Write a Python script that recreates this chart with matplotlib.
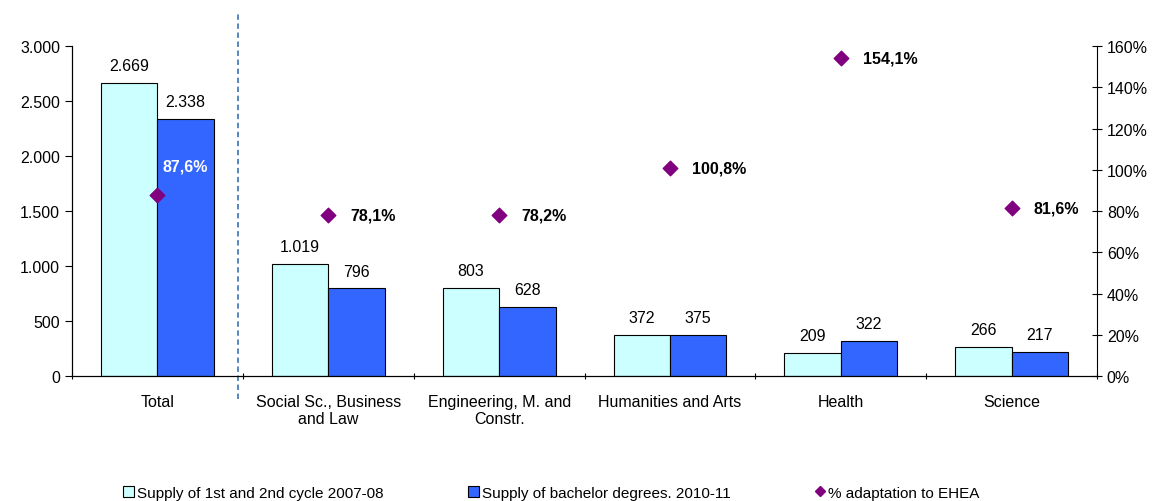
import matplotlib.pyplot as plt
from matplotlib.patches import Patch
from matplotlib.lines import Line2D
import numpy as np

plt.rcParams['font.family'] = ['Liberation Sans', 'DejaVu Sans']

categories = ['Total', 'Social Sc., Business\nand Law', 'Engineering, M. and\nConstr.',
              'Humanities and Arts', 'Health', 'Science']
supply_0708 = [2669, 1019, 803, 372, 209, 266]
supply_1011 = [2338, 796, 628, 375, 322, 217]
adaptation = [87.6, 78.1, 78.2, 100.8, 154.1, 81.6]

left_ticks = [0, 500, 1000, 1500, 2000, 2500, 3000]
right_ticks = [0, 20, 40, 60, 80, 100, 120, 140, 160]

FS = 11.5

def fmt_thousands(v):
    return f"{v:,}".replace(',', '.')

fig = plt.figure(figsize=(11.61, 5.02), dpi=100)
ax = fig.add_axes([0.062, 0.249, 0.883, 0.657])
ax2 = ax.twinx()

x = np.arange(len(categories))
w = 0.33
b1 = ax.bar(x - w / 2, supply_0708, w, color='#CCFFFF', edgecolor='black', linewidth=0.8, zorder=2)
b2 = ax.bar(x + w / 2, supply_1011, w, color='#3366FF', edgecolor='black', linewidth=0.8, zorder=2)

for rect, v in zip(list(b1) + list(b2), supply_0708 + supply_1011):
    ax.annotate(fmt_thousands(v), (rect.get_x() + rect.get_width() / 2, rect.get_height()),
                xytext=(0, 7), textcoords='offset points', ha='center', va='bottom', fontsize=FS)

ax.set_xlim(-0.5, len(categories) - 0.5)
ax.set_ylim(0, 3000)
ax.set_yticks(left_ticks)
ax.set_yticklabels([fmt_thousands(t) for t in left_ticks], fontsize=FS)
ax.set_xticks(np.arange(len(categories) + 1) - 0.5)
ax.set_xticklabels([])
ax.set_xticks(x, minor=True)
ax.set_xticklabels(categories, minor=True, fontsize=FS, linespacing=1.2)
ax.tick_params(axis='x', which='minor', length=0, pad=13)
ax.tick_params(axis='x', which='major', length=5, direction='inout')
ax.tick_params(axis='y', length=5, direction='out')

ax2.set_ylim(0, 160)
ax2.set_yticks(right_ticks)
ax2.set_yticklabels([f"{t}%" for t in right_ticks], fontsize=FS)
ax2.tick_params(axis='y', length=7, direction='inout')
ax2.scatter(x, adaptation, marker='D', s=55, color='#800080', zorder=3)

for i, v in enumerate(adaptation):
    lab = f"{v:.1f}%".replace('.', ',')
    if i == 0:
        ax2.annotate(lab, (x[i], v), xytext=(4, 21), textcoords='offset points',
                     ha='left', va='center', fontsize=FS, fontweight='bold', color='white')
    else:
        ax2.annotate(lab, (x[i], v), xytext=(16, 0), textcoords='offset points',
                     ha='left', va='center', fontsize=FS, fontweight='bold', color='black')

for a in (ax, ax2):
    a.spines['top'].set_visible(False)
ax.spines['right'].set_visible(False)

# separator between Total and the fields
ax.axvline(0.47, ymin=-0.07, ymax=1.1, color='#4A7EBB', linestyle=(0, (3, 2)),
           linewidth=1.3, clip_on=False, zorder=1)

handles = [Patch(facecolor='#CCFFFF', edgecolor='black', linewidth=0.8),
           Patch(facecolor='#3366FF', edgecolor='black', linewidth=0.8),
           Line2D([], [], marker='D', color='#800080', linestyle='none', markersize=5)]
labels = ['Supply of 1st and 2nd cycle 2007-08', 'Supply of bachelor degrees. 2010-11',
          '% adaptation to EHEA']
fig.legend(handles, labels, loc='lower center', bbox_to_anchor=(0.475, -0.025), ncol=3,
           frameon=False, fontsize=11, handlelength=0.7, handleheight=0.7,
           handletextpad=0.2, columnspacing=5.5)

fig.savefig('out.png', dpi=100)
